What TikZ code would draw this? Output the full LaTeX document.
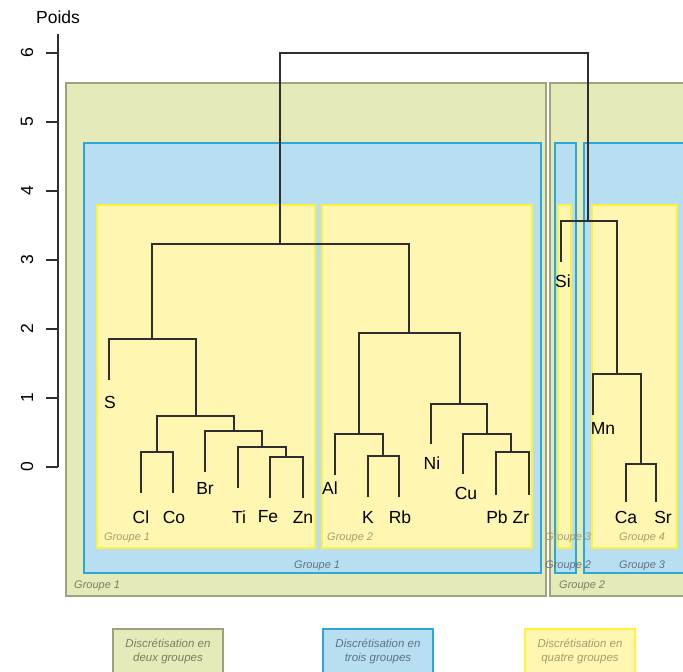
\documentclass[tikz,border=0pt]{standalone}
\usepackage{fontspec}
\setmainfont{Liberation Sans}

\definecolor{olivefill}{HTML}{E6EAB8}
\definecolor{olivedraw}{HTML}{9EA27E}
\definecolor{bluefill}{HTML}{B8DFF1}
\definecolor{bluedraw}{HTML}{2BA8D3}
\definecolor{yellowfill}{HTML}{FFF7B1}
\definecolor{yellowdraw}{HTML}{FFF03C}
\definecolor{olivetext}{HTML}{7C7C66}
\definecolor{bluetext}{HTML}{5E7283}
\definecolor{yellowtext}{HTML}{A39C72}
\definecolor{treeline}{HTML}{2E2E2E}

\tikzset{
    olivebox/.style={fill=olivefill, draw=olivedraw, line width=1.4pt},
    bluebox/.style={fill=bluefill, draw=bluedraw, line width=1.4pt},
    yellowbox/.style={fill=yellowfill, draw=yellowdraw, line width=1.6pt},
    grouplabel/.style={font=\fontsize{11}{13}\selectfont\itshape, anchor=west, inner sep=0pt},
    leaf/.style={font=\fontsize{17.5}{20}\selectfont, inner sep=0pt},
    branch/.style={draw=treeline, line width=1.4pt},
    legend/.style={draw, line width=1.4pt, minimum width=110pt, minimum height=44pt,
        align=center, font=\fontsize{11.5}{14}\selectfont\itshape},
}

\begin{document}
\begin{tikzpicture}[x=1pt, y=-1pt]
    \useasboundingbox (0,0) rectangle (683,672);

    % two groups
    \draw[olivebox] (66,83) rectangle (546,596);
    \draw[olivebox] (550,83) rectangle (700,596);
    \node[grouplabel, text=olivetext] (two1) at (74,586) {Groupe 1};
    \node[grouplabel, text=olivetext] (two2) at (559,586) {Groupe 2};

    % three groups
    \draw[bluebox] (84,143) rectangle (541,573);
    \draw[bluebox] (555,143) rectangle (576,573);
    \draw[bluebox] (584,143) rectangle (700,573);
    \node[grouplabel, text=bluetext] (three1) at (294,566) {Groupe 1};
    \node[grouplabel, text=bluetext] (three2) at (545,566) {Groupe 2};
    \node[grouplabel, text=bluetext] (three3) at (619,566) {Groupe 3};

    % four groups
    \draw[yellowbox] (97,205) rectangle (315,548);
    \draw[yellowbox] (322,205) rectangle (532,548);
    \draw[yellowbox] (558,205) rectangle (571,548);
    \draw[yellowbox] (592,205) rectangle (677,548);
    \node[grouplabel, text=yellowtext] (four1) at (104,538) {Groupe 1};
    \node[grouplabel, text=yellowtext] (four2) at (327,538) {Groupe 2};
    \node[grouplabel, text=yellowtext] (four3) at (545,538) {Groupe 3};
    \node[grouplabel, text=yellowtext] (four4) at (619,538) {Groupe 4};

    % axis
    \node[leaf] (poids) at (58,17) {Poids};
    \draw[branch] (58,34) -- (58,467);
    \foreach \v in {0,...,6} {
        \draw[branch] (46,{467-69*\v}) -- (58,{467-69*\v});
        \node[leaf, rotate=90] (tick\v) at (27,{467-69*\v}) {\v};
    }

    % leaves
    \node[leaf] (S) at (110,402) {S};
    \node[leaf] (Cl) at (141,517) {Cl};
    \node[leaf] (Co) at (174,517) {Co};
    \node[leaf] (Br) at (205,488) {Br};
    \node[leaf] (Ti) at (239,517) {Ti};
    \node[leaf] (Fe) at (268,517) {Fe};
    \node[leaf] (Zn) at (303,517) {Zn};
    \node[leaf] (Al) at (330,488) {Al};
    \node[leaf] (K) at (368,517) {K};
    \node[leaf] (Rb) at (400,517) {Rb};
    \node[leaf] (Ni) at (432,463) {Ni};
    \node[leaf] (Cu) at (466,493) {Cu};
    \node[leaf] (Pb) at (497,517) {Pb};
    \node[leaf] (Zr) at (521,517) {Zr};
    \node[leaf] (Si) at (563,281) {Si};
    \node[leaf] (Mn) at (603,428) {Mn};
    \node[leaf] (Ca) at (626,517) {Ca};
    \node[leaf] (Sr) at (663,517) {Sr};

    \coordinate (tS) at (109,380);
    \coordinate (tCl) at (141,493);
    \coordinate (tCo) at (173,493);
    \coordinate (tBr) at (205,472);
    \coordinate (tTi) at (238,488);
    \coordinate (tFe) at (270,498);
    \coordinate (tZn) at (303,498);
    \coordinate (tAl) at (335,475);
    \coordinate (tK) at (368,497);
    \coordinate (tRb) at (399,497);
    \coordinate (tNi) at (431,444);
    \coordinate (tCu) at (463,474);
    \coordinate (tPb) at (496,495);
    \coordinate (tZr) at (529,495);
    \coordinate (tSi) at (561,262);
    \coordinate (tMn) at (593,415);
    \coordinate (tCa) at (626,502);
    \coordinate (tSr) at (656,502);

    % merges
    \coordinate (mClCo) at (157,452);
    \coordinate (mFeZn) at (286,457);
    \coordinate (mTiZn) at (262,447);
    \coordinate (mBrZn) at (234,431);
    \coordinate (mClZn) at (196,416);
    \coordinate (mSZn) at (152,339);
    \coordinate (mKRb) at (383,456);
    \coordinate (mAlRb) at (359,434);
    \coordinate (mPbZr) at (511,452);
    \coordinate (mCuZr) at (487,434);
    \coordinate (mNiZr) at (460,404);
    \coordinate (mAlZr) at (409,333);
    \coordinate (mG1) at (280,244);
    \coordinate (mCaSr) at (641,464);
    \coordinate (mMnSr) at (617,374);
    \coordinate (mG2) at (588,221);
    \coordinate (mTop) at (434,53);

    \draw[branch] (tCl) |- (mClCo) -| (tCo);
    \draw[branch] (tFe) |- (mFeZn) -| (tZn);
    \draw[branch] (tTi) |- (mTiZn) -| (mFeZn);
    \draw[branch] (tBr) |- (mBrZn) -| (mTiZn);
    \draw[branch] (mClCo) |- (mClZn) -| (mBrZn);
    \draw[branch] (tS) |- (mSZn) -| (mClZn);
    \draw[branch] (tK) |- (mKRb) -| (tRb);
    \draw[branch] (tAl) |- (mAlRb) -| (mKRb);
    \draw[branch] (tPb) |- (mPbZr) -| (tZr);
    \draw[branch] (tCu) |- (mCuZr) -| (mPbZr);
    \draw[branch] (tNi) |- (mNiZr) -| (mCuZr);
    \draw[branch] (mAlRb) |- (mAlZr) -| (mNiZr);
    \draw[branch] (mSZn) |- (mG1) -| (mAlZr);
    \draw[branch] (tCa) |- (mCaSr) -| (tSr);
    \draw[branch] (tMn) |- (mMnSr) -| (mCaSr);
    \draw[branch] (tSi) |- (mG2) -| (mMnSr);
    \draw[branch] (mG1) |- (mTop) -| (mG2);

    % legend
    \node[legend, draw=olivedraw, fill=olivefill, text=olivetext] (legTwo) at (168,651)
        {Discrétisation en\\deux groupes};
    \node[legend, draw=bluedraw, fill=bluefill, text=bluetext] (legThree) at (378,651)
        {Discrétisation en\\trois groupes};
    \node[legend, draw=yellowdraw, fill=yellowfill, text=yellowtext] (legFour) at (580,651)
        {Discrétisation en\\quatre groupes};
\end{tikzpicture}
\end{document}
